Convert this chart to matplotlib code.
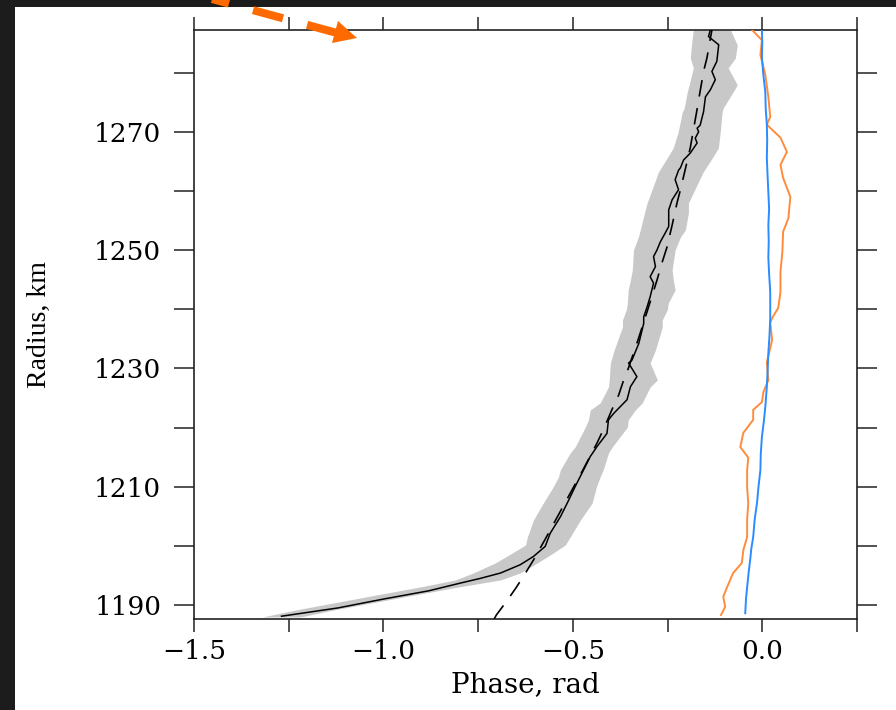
import matplotlib
matplotlib.use("Agg")
import matplotlib.pyplot as plt
from matplotlib.patches import Rectangle, Polygon
from matplotlib.lines import Line2D
from matplotlib.ticker import MultipleLocator

# black: measured phase profile
blk_r = [1188.1, 1189.5, 1191.0, 1192.4, 1193.7, 1194.5, 1195.4, 1196.8, 1198.2, 1199.9,
         1202.1, 1204.9, 1207.2, 1210.0, 1212.8, 1215.1, 1216.8, 1219.0, 1221.3, 1222.4,
         1224.7, 1226.9, 1228.6, 1230.9, 1231.4, 1234.2, 1237.6, 1238.7, 1240.4, 1242.1,
         1244.4, 1245.5, 1247.2, 1248.9, 1250.0, 1251.4, 1252.9, 1254.0, 1256.8, 1258.5,
         1260.2, 1261.9, 1263.5, 1263.9, 1265.2, 1266.4, 1268.1, 1268.9, 1270.0, 1270.6,
         1271.1, 1273.4, 1275.9, 1277.1, 1278.8, 1280.2, 1281.9, 1284.7, 1286.1, 1287.2]
blk_p = [-1.269, -1.120, -1.000, -0.880, -0.797, -0.744, -0.691, -0.639, -0.604, -0.573,
         -0.560, -0.533, -0.515, -0.494, -0.472, -0.454, -0.436, -0.410, -0.406, -0.392,
         -0.357, -0.348, -0.331, -0.353, -0.344, -0.326, -0.313, -0.313, -0.304, -0.296,
         -0.287, -0.296, -0.282, -0.287, -0.278, -0.269, -0.256, -0.247, -0.247, -0.238,
         -0.221, -0.230, -0.221, -0.216, -0.208, -0.190, -0.172, -0.177, -0.168, -0.172,
         -0.164, -0.155, -0.150, -0.137, -0.124, -0.133, -0.120, -0.115, -0.142, -0.137]

# grey uncertainty band
band_r = [1187.97, 1189.15, 1190.34, 1191.69, 1193.04, 1194.23, 1195.41, 1197.10, 1198.79, 1200.14,
          1201.50, 1204.37, 1207.24, 1209.95, 1211.64, 1212.82, 1215.70, 1216.71, 1220.09, 1221.28,
          1222.97, 1224.15, 1226.85, 1228.04, 1230.91, 1233.11, 1237.00, 1238.18, 1239.87, 1241.06,
          1243.25, 1244.94, 1246.64, 1250.02, 1252.21, 1253.40, 1256.27, 1257.96, 1263.20, 1265.57,
          1267.26, 1269.97, 1273.35, 1274.02, 1276.73, 1277.91, 1280.79, 1282.48, 1284.67, 1287.21]
band_lo = [-1.320, -1.232, -1.132, -1.019, -0.903, -0.810, -0.763, -0.705, -0.660, -0.625,
           -0.620, -0.604, -0.578, -0.552, -0.538, -0.533, -0.507, -0.494, -0.467, -0.459,
           -0.454, -0.428, -0.406, -0.404, -0.401, -0.391, -0.369, -0.369, -0.359, -0.356,
           -0.354, -0.348, -0.343, -0.340, -0.327, -0.322, -0.311, -0.304, -0.274, -0.251,
           -0.235, -0.222, -0.211, -0.206, -0.198, -0.193, -0.182, -0.190, -0.187, -0.182]
band_hi = [-1.219, -1.132, -1.032, -0.918, -0.802, -0.691, -0.639, -0.594, -0.552, -0.520,
           -0.507, -0.480, -0.449, -0.438, -0.428, -0.420, -0.406, -0.396, -0.356, -0.354,
           -0.335, -0.317, -0.296, -0.277, -0.296, -0.282, -0.264, -0.264, -0.251, -0.248,
           -0.230, -0.235, -0.238, -0.230, -0.216, -0.203, -0.195, -0.195, -0.156, -0.132,
           -0.116, -0.111, -0.106, -0.103, -0.077, -0.066, -0.090, -0.071, -0.066, -0.084]

# dashed: model curve
dsh_r = [1187.6, 1188.3, 1190.7, 1193.0, 1195.2, 1197.6, 1201.0, 1205.0, 1209.0, 1213.0,
         1217.4, 1220.0, 1223.0, 1225.5, 1228.0, 1230.1, 1235.0, 1240.0, 1244.9, 1247.8,
         1250.4, 1254.2, 1258.0, 1260.2, 1264.0, 1267.3, 1270.6, 1273.1, 1275.4, 1277.6,
         1280.2, 1282.5, 1285.8, 1287.2]
dsh_p = [-0.708, -0.702, -0.674, -0.649, -0.627, -0.604, -0.574, -0.540, -0.506, -0.472,
         -0.436, -0.417, -0.397, -0.379, -0.366, -0.353, -0.327, -0.302, -0.278, -0.265,
         -0.252, -0.238, -0.225, -0.216, -0.202, -0.190, -0.181, -0.174, -0.168, -0.162,
         -0.155, -0.146, -0.137, -0.133]

# orange
org_r = [1188.3, 1189.7, 1191.4, 1193.0, 1195.4, 1197.1, 1199.3, 1201.5, 1204.4, 1207.2,
         1209.9, 1212.8, 1214.9, 1216.7, 1219.1, 1221.3, 1223.0, 1224.3, 1226.0, 1228.0,
         1231.0, 1234.8, 1237.7, 1238.5, 1240.2, 1242.9, 1246.3, 1249.7, 1253.1, 1255.4,
         1259.0, 1262.2, 1264.4, 1266.6, 1269.0, 1271.2, 1272.5, 1275.9, 1279.6, 1283.0,
         1285.5, 1287.2]
org_p = [-0.109, -0.098, -0.103, -0.093, -0.077, -0.054, -0.050, -0.040, -0.040, -0.037,
         -0.040, -0.040, -0.037, -0.058, -0.050, -0.024, -0.024, -0.001, 0.003, 0.016,
         0.012, 0.026, 0.021, 0.026, 0.042, 0.048, 0.048, 0.053, 0.055, 0.069,
         0.074, 0.055, 0.048, 0.065, 0.048, 0.012, 0.021, 0.016, 0.008, -0.005,
         -0.001, -0.027]

# blue
blu_r = [1188.6, 1191.0, 1193.0, 1195.5, 1197.6, 1199.5, 1201.5, 1204.5, 1207.2, 1210.0,
         1212.8, 1215.5, 1218.4, 1221.0, 1223.5, 1226.9, 1229.5, 1232.6, 1235.5, 1238.5,
         1242.9, 1246.0, 1248.7, 1251.5, 1254.2, 1257.0, 1259.8, 1262.5, 1265.6, 1268.5,
         1271.2, 1274.0, 1276.7, 1279.5, 1282.5, 1285.0, 1287.2]
blu_p = [-0.045, -0.043, -0.040, -0.036, -0.032, -0.029, -0.024, -0.020, -0.014, -0.010,
         -0.005, -0.004, -0.001, 0.004, 0.008, 0.012, 0.014, 0.016, 0.019, 0.021,
         0.021, 0.018, 0.016, 0.017, 0.016, 0.018, 0.016, 0.014, 0.012, 0.013,
         0.012, 0.009, 0.008, 0.003, -0.001, 0.000, -0.001]

W, H = 896, 710
fig = plt.figure(figsize=(W / 100, H / 100), dpi=100)
fig.patch.set_facecolor("white")

ax = fig.add_axes([194 / W, 1 - 619 / H, (857 - 194) / W, (619 - 30) / H])

ax.fill_betweenx(band_r, band_lo, band_hi, color="#c8c8c8", lw=0, zorder=1)
ax.plot(dsh_p, dsh_r, color="black", lw=1.2, dashes=(10, 7), zorder=3)
ax.plot(blk_p, blk_r, color="black", lw=1.1, zorder=4)
ax.plot(org_p, org_r, color="#ff8c3c", lw=1.4, zorder=3)
ax.plot(blu_p, blu_r, color="#2a8cff", lw=1.4, zorder=3)

ax.set_xlim(-1.5, 0.25)
ax.set_ylim(1187.63, 1287.2)
ax.xaxis.set_major_locator(MultipleLocator(0.5))
ax.xaxis.set_minor_locator(MultipleLocator(0.25))
ax.yaxis.set_major_locator(MultipleLocator(20))
ax.yaxis.set_minor_locator(MultipleLocator(10))
ax.set_yticks([1190, 1210, 1230, 1250, 1270])

for s in ax.spines.values():
    s.set_linewidth(1.2)
    s.set_color("#222222")

ax.tick_params(axis="x", which="both", direction="out", length=9.5, width=1.1,
               top=True, bottom=True, color="#222222", pad=5)
ax.tick_params(axis="y", which="both", direction="out", length=14.5, width=1.1,
               left=True, right=True, color="#222222", pad=9)
ax.tick_params(labeltop=False, labelright=False)

for lab in ax.get_xticklabels() + ax.get_yticklabels():
    lab.set_fontfamily("DejaVu Serif")
    lab.set_fontsize(19)

ax.set_xlabel("Phase, rad", fontfamily="DejaVu Serif", fontsize=20)
ax.xaxis.set_label_coords(0.5, -0.088)
ax.set_ylabel("Radius, km", fontfamily="Liberation Serif", fontsize=20)
ax.yaxis.set_label_coords(-0.214, 0.5)

# dark frame edges of the screenshot
fig.add_artist(Rectangle((0, 1 - 7 / H), 1, 7 / H, transform=fig.transFigure,
                         facecolor="#1c1c1c", edgecolor="none", zorder=10))
fig.add_artist(Rectangle((0, 0), 15 / W, 1, transform=fig.transFigure,
                         facecolor="#1c1c1c", edgecolor="none", zorder=10))

# orange dashed pointer arrow
def fpt(x, y):
    return x / W, 1 - y / H

arrow_col = "#ff6a00"
x0, y0 = fpt(337, 33)
x1, y1 = fpt(190, -7)
fig.add_artist(Line2D([x0, x1], [y0, y1], transform=fig.transFigure, color=arrow_col,
                      lw=5.8, linestyle=(0, (3.85, 3.1)), solid_capstyle="butt",
                      dash_capstyle="butt", zorder=11))
head = [fpt(357, 38), fpt(338, 21), fpt(332, 43)]
fig.add_artist(Polygon(head, closed=True, transform=fig.transFigure,
                       facecolor=arrow_col, edgecolor="none", zorder=11))

fig.savefig("out.png", dpi=100)
